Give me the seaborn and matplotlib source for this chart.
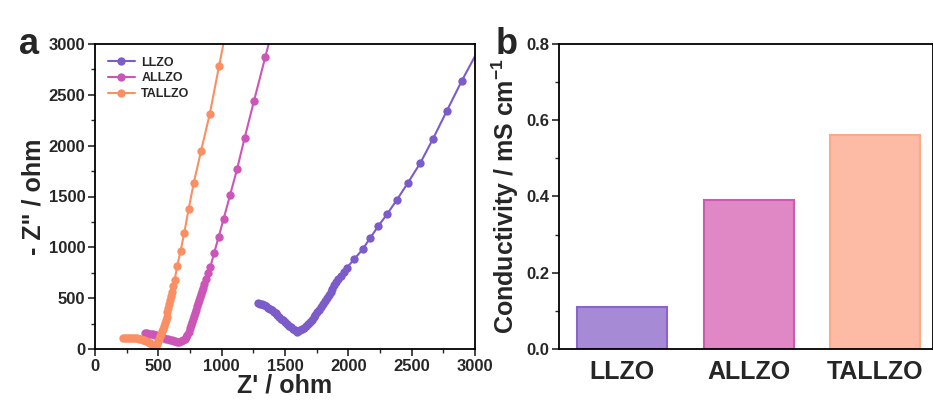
import numpy as np
import pandas as pd
import matplotlib
matplotlib.use("Agg")
import matplotlib.pyplot as plt
from matplotlib.ticker import MultipleLocator, FormatStrFormatter
import seaborn as sns

# ---------------- data ----------------
samples = ["LLZO", "ALLZO", "TALLZO"]

llzo_re = [1290, 1305, 1320, 1335, 1350, 1365, 1380, 1395, 1410, 1425, 1440,
           1455, 1470, 1485, 1500, 1515, 1530, 1545, 1560, 1575, 1592, 1605,
           1620, 1635, 1650, 1665, 1680, 1695, 1710, 1725, 1740, 1755, 1770,
           1785, 1800, 1816, 1830, 1845, 1860, 1874, 1890, 1905, 1922, 1939,
           1965, 1989, 2047, 2113, 2174, 2237, 2305, 2385, 2471, 2568, 2668,
           2777, 2895, 3060]
llzo_im = [450, 447, 440, 432, 420, 408, 395, 380, 365, 350, 335,
           318, 300, 283, 265, 248, 230, 215, 200, 185, 172, 175,
           182, 195, 210, 230, 250, 270, 290, 310, 335, 360, 385,
           410, 440, 472, 500, 531, 560, 590, 625, 659, 690, 721,
           760, 800, 885, 980, 1095, 1210, 1325, 1470, 1636, 1829, 2066,
           2341, 2636, 3020]

allzo_re = [395, 410, 425, 440, 455, 470, 485, 500, 515, 530, 545, 560, 575,
            590, 605, 620, 635, 650, 665, 680, 695, 708, 720, 730, 740, 750,
            760, 768, 775, 783, 790, 798, 805, 812, 820, 828, 835, 843, 850,
            862, 877, 893, 910, 940, 976, 1016, 1066, 1121, 1181, 1255, 1345,
            1400]
allzo_im = [158, 155, 152, 148, 145, 140, 135, 130, 124, 116, 110, 103, 96,
            90, 84, 78, 74, 72, 72, 76, 84, 98, 120, 142, 170, 205,
            240, 270, 300, 328, 355, 388, 420, 450, 480, 510, 540, 570, 600,
            640, 686, 745, 804, 941, 1102, 1283, 1512, 1767, 2075, 2439, 2875,
            3140]

tallzo_re = [224, 240, 255, 270, 285, 300, 315, 330, 345, 360, 375, 390, 405,
             420, 435, 450, 462, 474, 482, 490, 498, 505, 512, 520, 528, 535,
             543, 550, 558, 565, 572, 579, 586, 592, 599, 605, 617, 629, 649,
             676, 705, 739, 780, 837, 906, 979, 1040]
tallzo_im = [110, 111, 111, 110, 110, 108, 106, 104, 100, 96, 92, 86, 78,
             68, 56, 42, 28, 12, 30, 50, 75, 100, 125, 150, 175, 200,
             228, 255, 285, 318, 360, 400, 440, 482, 522, 564, 620, 679, 819,
             967, 1145, 1375, 1635, 1947, 2311, 2780, 3170]

conductivity = [0.11, 0.39, 0.56]

line_colors = ["#7B5CC8", "#CC55B8", "#F98F63"]
bar_fill = ["#A68AD6", "#DF88C5", "#FDBBA6"]
bar_edge = ["#8B63CF", "#CB5AB0", "#FBAA88"]

# ---------------- style ----------------
sns.set_theme(style="ticks")
plt.rcParams["font.family"] = ["Liberation Sans", "DejaVu Sans"]
plt.rcParams["font.weight"] = "bold"
plt.rcParams["mathtext.default"] = "bf"
plt.rcParams["mathtext.fontset"] = "custom"
plt.rcParams["mathtext.bf"] = "Liberation Sans:bold"

df = pd.concat([
    pd.DataFrame({"re": llzo_re, "im": llzo_im, "sample": "LLZO"}),
    pd.DataFrame({"re": allzo_re, "im": allzo_im, "sample": "ALLZO"}),
    pd.DataFrame({"re": tallzo_re, "im": tallzo_im, "sample": "TALLZO"}),
], ignore_index=True)

fig = plt.figure(figsize=(9.33, 4.05), dpi=100)
ax1 = fig.add_axes([95 / 933, 56 / 405, 380 / 933, 305 / 405])
ax2 = fig.add_axes([559 / 933, 56 / 405, 374 / 933, 305 / 405])

# ---------------- panel a ----------------
sns.lineplot(data=df, x="re", y="im", hue="sample", hue_order=samples,
             palette=line_colors, sort=False, estimator=None,
             marker="o", markersize=6, markeredgewidth=0, linewidth=1.5,
             ax=ax1)
ax1.set_xlim(0, 3000)
ax1.set_ylim(0, 3000)
ax1.xaxis.set_major_locator(MultipleLocator(500))
ax1.xaxis.set_minor_locator(MultipleLocator(250))
ax1.yaxis.set_major_locator(MultipleLocator(500))
ax1.yaxis.set_minor_locator(MultipleLocator(250))
ax1.set_xlabel("Z' / ohm", fontsize=18, fontweight="bold", labelpad=0)
ax1.set_ylabel('- Z" / ohm', fontsize=18, fontweight="bold", labelpad=2)
for sp in ax1.spines.values():
    sp.set_linewidth(1.3)
    sp.set_color("black")
ax1.tick_params(which="major", direction="out", length=5, width=1.2,
                labelsize=12, pad=2)
ax1.tick_params(which="minor", direction="out", length=3, width=1.0)
for lab in ax1.get_xticklabels() + ax1.get_yticklabels():
    lab.set_fontweight("bold")
leg = ax1.legend(loc="upper left", frameon=False,
                 handlelength=2.2, handletextpad=0.5, labelspacing=0.3,
                 borderaxespad=0.6, prop={"weight": "bold", "size": 9})
ax1.text(-0.2, 1.0, "a", transform=ax1.transAxes, fontsize=26,
         fontweight="bold", va="center", ha="left")

# ---------------- panel b ----------------
bdf = pd.DataFrame({"sample": samples, "cond": conductivity})
sns.barplot(data=bdf, x="sample", y="cond", hue="sample", palette=bar_fill,
            order=samples, hue_order=samples, legend=False, width=0.71,
            saturation=1, linewidth=1.5, ax=ax2)
for patch, ec in zip(ax2.patches, bar_edge):
    patch.set_edgecolor(ec)
ax2.set_xlim(-0.5, 2.455)
ax2.set_ylim(0, 0.8)
ax2.yaxis.set_major_locator(MultipleLocator(0.2))
ax2.yaxis.set_minor_locator(MultipleLocator(0.1))
ax2.yaxis.set_major_formatter(FormatStrFormatter("%.1f"))
ax2.set_xlabel("")
ax2.set_ylabel(r"Conductivity / mS cm$^{-1}$", fontsize=18,
               fontweight="bold", labelpad=4)
for sp in ax2.spines.values():
    sp.set_linewidth(1.3)
    sp.set_color("black")
ax2.tick_params(axis="y", which="major", direction="out", length=5,
                width=1.2, labelsize=12, pad=2)
ax2.tick_params(axis="y", which="minor", direction="out", length=3, width=1.0)
ax2.tick_params(axis="x", length=0, labelsize=18, pad=8)
for lab in ax2.get_xticklabels() + ax2.get_yticklabels():
    lab.set_fontweight("bold")
ax2.text(-0.17, 1.0, "b", transform=ax2.transAxes, fontsize=26,
         fontweight="bold", va="center", ha="left")

fig.savefig("out.png", dpi=100)
